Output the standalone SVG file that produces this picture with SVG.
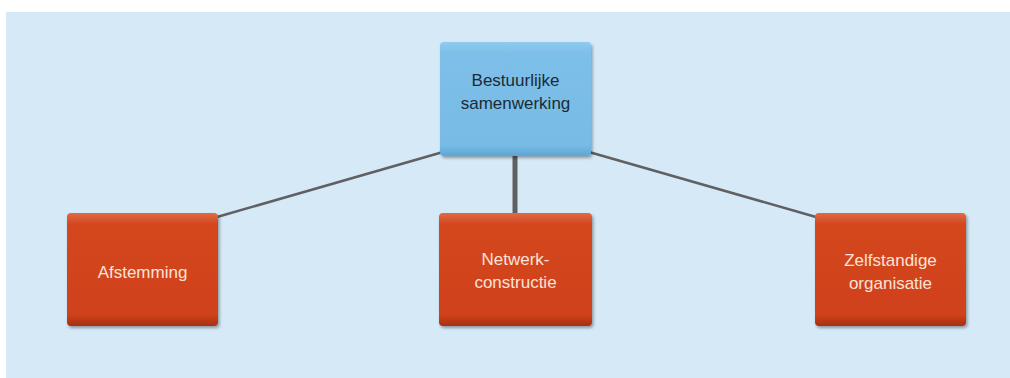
<svg xmlns="http://www.w3.org/2000/svg" width="1010" height="378" viewBox="0 0 1010 378">
<style>
.lbl{font-family:"Liberation Sans",Arial,sans-serif;font-size:17px;text-anchor:middle}
.dark{fill:#1d2a36}
.light{fill:#fbe3d8}
.conn{stroke:#5f6062;fill:none}
</style>
<defs>
<filter id="sh" x="-10%" y="-10%" width="125%" height="130%">
<feDropShadow dx="1.5" dy="2" stdDeviation="1.5" flood-color="#000" flood-opacity="0.35"/>
</filter>
<linearGradient id="gb" x1="0" y1="0" x2="0" y2="1">
<stop offset="0" stop-color="#8fcbef"/>
<stop offset="0.1" stop-color="#7cbfe8"/>
<stop offset="0.9" stop-color="#78bce6"/>
<stop offset="1" stop-color="#5ea6d6"/>
</linearGradient>
<linearGradient id="go" x1="0" y1="0" x2="0" y2="1">
<stop offset="0" stop-color="#e06a45"/>
<stop offset="0.1" stop-color="#d4461f"/>
<stop offset="0.9" stop-color="#d0421b"/>
<stop offset="1" stop-color="#a52f12"/>
</linearGradient>
</defs>
<rect x="6" y="12" width="1004" height="366" fill="#d6e9f7"/>
<g id="connectors">
<line class="conn" x1="443" y1="152" x2="217" y2="217" stroke-width="2.5"/>
<line class="conn" x1="515" y1="155" x2="515" y2="214" stroke-width="5"/>
<line class="conn" x1="589" y1="152" x2="816" y2="217" stroke-width="2.5"/>
</g>
<g id="node-bestuurlijke">
<rect x="440" y="42" width="151" height="114" rx="4" fill="url(#gb)" filter="url(#sh)"/>
<text class="lbl dark" x="515.5" y="86">Bestuurlijke</text>
<text class="lbl dark" x="515.5" y="109">samenwerking</text>
</g>
<g id="node-afstemming">
<rect x="67" y="213" width="151" height="113" rx="4" fill="url(#go)" filter="url(#sh)"/>
<text class="lbl light" x="142.5" y="278">Afstemming</text>
</g>
<g id="node-netwerk">
<rect x="439" y="213" width="153" height="113" rx="4" fill="url(#go)" filter="url(#sh)"/>
<text class="lbl light" x="515.5" y="265">Netwerk-</text>
<text class="lbl light" x="515.5" y="288">constructie</text>
</g>
<g id="node-zelfstandige">
<rect x="815" y="213" width="151" height="113" rx="4" fill="url(#go)" filter="url(#sh)"/>
<text class="lbl light" x="890.5" y="266">Zelfstandige</text>
<text class="lbl light" x="890.5" y="289">organisatie</text>
</g>
</svg>
